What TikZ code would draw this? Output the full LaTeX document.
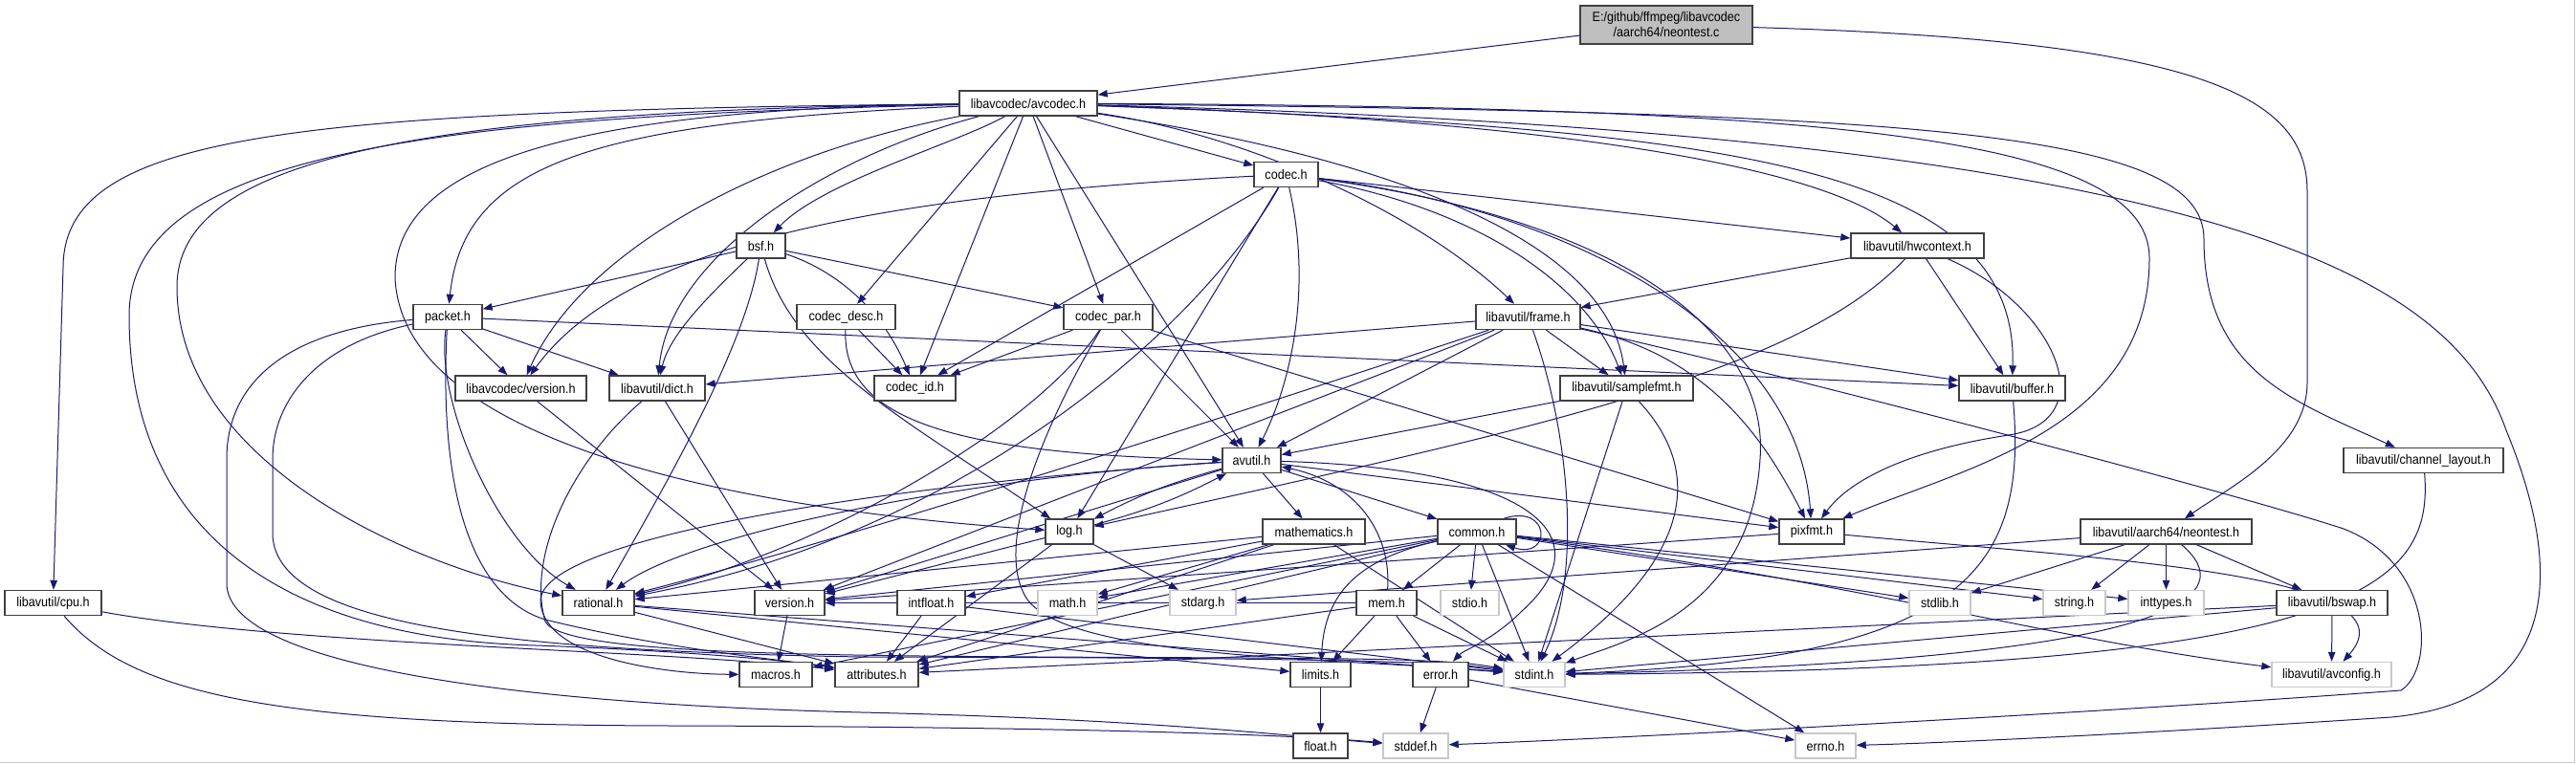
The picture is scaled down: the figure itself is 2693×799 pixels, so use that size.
\documentclass[tikz,border=0pt]{standalone}
\usepackage{fontspec}
\setmainfont{Liberation Sans}
\newfontfamily\nodefont[FakeStretch=0.9]{Liberation Sans}
\usetikzlibrary{arrows.meta}
\definecolor{edgeblue}{HTML}{191970}
\definecolor{boxgray}{HTML}{BFBFBF}
\definecolor{lightbd}{HTML}{C8C8C8}
\pgfdeclarelayer{edgelayer}
\pgfdeclarelayer{backlayer}
\pgfsetlayers{backlayer,edgelayer,main}
\begin{document}
\begin{tikzpicture}[x=1pt,y=-1pt,
  nd/.style={draw=black!75, line width=1.4pt, fill=white, minimum height=26pt, inner sep=0pt, font=\nodefont\fontsize{14}{16}\selectfont},
  gnd/.style={nd, draw=lightbd},
  mainnd/.style={nd, fill=boxgray, minimum height=40pt, align=center},
  e/.style={draw=edgeblue, line width=1pt, -{Triangle[length=10pt,width=7.5pt]}}]
\useasboundingbox (0,0) rectangle (2693,799);
\begin{pgfonlayer}{backlayer}
\fill[white] (0,0) rectangle (2693,799);
\draw[lightbd, line width=1.2pt] (0,797.5) -- (2691.5,797.5) -- (2691.5,0);
\end{pgfonlayer}
% nodes
\node[mainnd, minimum width=180pt] (N0) at (1742,26) {E:/github/ffmpeg/libavcodec\\/aarch64/neontest.c};
\node[nd, minimum width=144pt] (AC) at (1075,108) {libavcodec/avcodec.h};
\node[nd, minimum width=67pt] (CODEC) at (1344.5,182.5) {codec.h};
\node[nd, minimum width=51pt] (BSF) at (795.5,257) {bsf.h};
\node[nd, minimum width=139pt] (HW) at (2004.5,257) {libavutil/hwcontext.h};
\node[nd, minimum width=72pt] (PKT) at (468,331.5) {packet.h};
\node[nd, minimum width=103pt] (CDESC) at (884.5,331.5) {codec\_desc.h};
\node[nd, minimum width=93pt] (CPAR) at (1158.5,331.5) {codec\_par.h};
\node[nd, minimum width=109pt] (FRAME) at (1597.5,331.5) {libavutil/frame.h};
\node[nd, minimum width=137pt] (LVER) at (544.5,406) {libavcodec/version.h};
\node[nd, minimum width=100pt] (DICT) at (687,406) {libavutil/dict.h};
\node[nd, minimum width=85pt] (CID) at (956.5,406) {codec\_id.h};
\node[nd, minimum width=139pt] (SFMT) at (1700.5,406) {libavutil/samplefmt.h};
\node[nd, minimum width=111pt] (BUF) at (2103.5,406) {libavutil/buffer.h};
\node[nd, minimum width=61pt] (AVU) at (1308.5,481.5) {avutil.h};
\node[nd, minimum width=167pt] (CHL) at (2533.5,481.5) {libavutil/channel\_layout.h};
\node[nd, minimum width=50pt] (LOG) at (1118,556) {log.h};
\node[nd, minimum width=107pt] (MATH) at (1373.5,556) {mathematics.h};
\node[nd, minimum width=82pt] (COM) at (1544,556) {common.h};
\node[nd, minimum width=68pt] (PIX) at (1894,556) {pixfmt.h};
\node[nd, minimum width=179pt] (NEON) at (2264.5,556) {libavutil/aarch64/neontest.h};
\node[nd, minimum width=101pt] (CPU) at (55.5,630.5) {libavutil/cpu.h};
\node[nd, minimum width=75pt] (RAT) at (625.5,630.5) {rational.h};
\node[nd, minimum width=73pt] (VER) at (825.5,630.5) {version.h};
\node[nd, minimum width=71pt] (INTF) at (973.5,630.5) {intfloat.h};
\node[gnd, minimum width=62pt] (MATHH) at (1116,630.5) {math.h};
\node[gnd, minimum width=69pt] (STDARG) at (1257.5,630.5) {stdarg.h};
\node[nd, minimum width=63pt] (MEM) at (1449.5,630.5) {mem.h};
\node[gnd, minimum width=61pt] (STDIO) at (1536.5,630.5) {stdio.h};
\node[gnd, minimum width=64pt] (STDLIB) at (2028,630.5) {stdlib.h};
\node[gnd, minimum width=65pt] (STRING) at (2168.5,630.5) {string.h};
\node[gnd, minimum width=79pt] (INTTYPES) at (2264.5,630.5) {inttypes.h};
\node[nd, minimum width=116pt] (BSWAP) at (2438,630.5) {libavutil/bswap.h};
\node[nd, minimum width=76pt] (MACROS) at (811,705.5) {macros.h};
\node[nd, minimum width=87pt] (ATTR) at (916.5,705.5) {attributes.h};
\node[nd, minimum width=63pt] (LIMITS) at (1380.5,705.5) {limits.h};
\node[nd, minimum width=58pt] (ERROR) at (1506,705.5) {error.h};
\node[gnd, minimum width=64pt] (STDINT) at (1604,705.5) {stdint.h};
\node[gnd, minimum width=125pt] (AVCONF) at (2437.5,705.5) {libavutil/avconfig.h};
\node[nd, minimum width=57pt] (FLOAT) at (1380.5,780) {float.h};
\node[gnd, minimum width=68pt] (STDDEF) at (1480,780) {stddef.h};
\node[gnd, minimum width=63pt] (ERRNO) at (1908.5,780) {errno.h};
\begin{pgfonlayer}{edgelayer}
% neontest.c
\draw[e] (N0) -- (AC);
\draw[e] (N0) .. controls (2300,42) and (2412,100) .. (2412,200) -- (2412,400) .. controls (2412,470) and (2330,510) .. (NEON);
% avcodec.h
\draw[e] (AC) .. controls (300,116) and (66,140) .. (66,280) -- (CPU);
\draw[e] (AC) .. controls (450,122) and (135,160) .. (135,330) .. controls (135,560) and (300,668) .. (560,675) .. controls (700,680) and (820,690) .. (ATTR);
\draw[e] (AC) .. controls (420,116) and (185,170) .. (185,300) .. controls (185,480) and (420,590) .. (RAT);
\draw[e] (AC) .. controls (600,114) and (413,170) .. (413,290) .. controls (420,470) and (800,535) .. (LOG);
\draw[e] (AC) .. controls (620,128) and (485,170) .. (PKT);
\draw[e] (AC) .. controls (800,160) and (610,260) .. (LVER);
\draw[e] (AC) .. controls (860,165) and (700,270) .. (DICT);
\draw[e] (AC) .. controls (1000,150) and (860,190) .. (BSF);
\draw[e] (AC) -- (CDESC);
\draw[e] (AC) -- (CID);
\draw[e] (AC) -- (CPAR);
\draw[e] (AC) -- (CODEC);
\draw[e] (AC) -- (AVU);
\draw[e] (AC) .. controls (1300,140) and (1480,220) .. (FRAME);
\draw[e] (AC) .. controls (1450,165) and (1680,250) .. (SFMT);
\draw[e] (AC) .. controls (1600,125) and (1900,170) .. (HW);
\draw[e] (AC) .. controls (1800,135) and (2110,170) .. (BUF);
\draw[e] (AC) .. controls (1900,112) and (2247,140) .. (2247,270) .. controls (2247,450) and (2050,490) .. (PIX);
\draw[e] (AC) .. controls (2000,118) and (2304,135) .. (2304,250) .. controls (2304,390) and (2400,420) .. (CHL);
\draw[e] (AC) .. controls (2300,140) and (2560,280) .. (2620,450) .. controls (2690,620) and (2660,735) .. (2500,750) .. controls (2200,770) and (2000,778) .. (ERRNO);
% codec.h
\draw[e] (CODEC) .. controls (900,205) and (650,260) .. (LVER);
\draw[e] (CODEC) -- (CID);
\draw[e] (CODEC) .. controls (1250,350) and (1000,560) .. (RAT);
\draw[e] (CODEC) -- (LOG);
\draw[e] (CODEC) .. controls (1372,300) and (1350,400) .. (AVU);
\draw[e] (CODEC) -- (HW);
\draw[e] (CODEC) .. controls (1550,220) and (1660,300) .. (SFMT);
\draw[e] (CODEC) .. controls (1650,220) and (1880,350) .. (PIX);
\draw[e] (CODEC) .. controls (1700,230) and (1850,350) .. (1840,480) .. controls (1830,640) and (1700,670) .. (STDINT);
% bsf.h
\draw[e] (BSF) -- (PKT);
\draw[e] (BSF) -- (CPAR);
\draw[e] (BSF) .. controls (880,285) and (925,330) .. (CID);
\draw[e] (BSF) .. controls (740,310) and (700,350) .. (DICT);
\draw[e] (BSF) .. controls (780,360) and (700,500) .. (RAT);
\draw[e] (BSF) .. controls (830,380) and (950,440) .. (LOG);
% codec_desc.h
\draw[e] (CDESC) -- (CID);
\draw[e] (CDESC) .. controls (880,440) and (1000,475) .. (AVU);
% codec_par.h
\draw[e] (CPAR) -- (CID);
\draw[e] (CPAR) -- (AVU);
\draw[e] (CPAR) .. controls (1080,450) and (850,580) .. (RAT);
\draw[e] (CPAR) -- (PIX);
\draw[e] (CPAR) .. controls (1100,430) and (1040,560) .. (1070,620) .. controls (1100,690) and (1400,688) .. (STDINT);
% frame.h
\draw[e] (FRAME) -- (DICT);
\draw[e] (FRAME) -- (BUF);
\draw[e] (FRAME) -- (SFMT);
\draw[e] (FRAME) -- (AVU);
\draw[e] (FRAME) .. controls (1300,430) and (900,560) .. (RAT);
\draw[e] (FRAME) -- (VER);
\draw[e] (FRAME) .. controls (1780,370) and (1840,450) .. (PIX);
\draw[e] (FRAME) .. controls (1640,450) and (1655,600) .. (STDINT);
\draw[e] (FRAME) .. controls (1900,400) and (2350,520) .. (2450,553) .. controls (2545,590) and (2545,700) .. (2510,722) .. controls (2200,745) and (1700,772) .. (STDDEF);
% hwcontext.h
\draw[e] (HW) -- (FRAME);
\draw[e] (HW) -- (BUF);
\draw[e] (HW) .. controls (1880,390) and (1600,450) .. (LOG);
\draw[e] (HW) .. controls (2150,320) and (2200,440) .. (2100,455) .. controls (2000,470) and (1935,500) .. (PIX);
% samplefmt.h
\draw[e] (SFMT) -- (AVU);
\draw[e] (SFMT) -- (STDINT);
\draw[e] (SFMT) .. controls (1760,470) and (1800,560) .. (STDINT);
% avutil.h
\draw[e] (AVU) -- (MATH);
\draw[e] (AVU) -- (COM);
\draw[e] (AVU) to[bend right=6] (LOG);
\draw[e] (LOG) to[bend right=6] (AVU);
\draw[e] (AVU) -- (PIX);
\draw[e] (AVU) .. controls (1600,490) and (1680,560) .. (1590,640) .. controls (1560,670) and (1530,680) .. (ERROR);
\draw[e] (AVU) .. controls (1000,500) and (720,560) .. (RAT);
\draw[e] (AVU) -- (VER);
\draw[e] (AVU) .. controls (950,505) and (560,560) .. (565,630) .. controls (570,690) and (700,705) .. (MACROS);
% log.h
\draw[e] (LOG) -- (STDARG);
\draw[e] (LOG) -- (VER);
\draw[e] (LOG) -- (ATTR);
% mathematics.h
\draw[e] (MATH) -- (MATHH);
\draw[e] (MATH) -- (INTF);
\draw[e] (MATH) -- (RAT);
\draw[e] (MATH) -- (ATTR);
\draw[e] (MATH) -- (STDINT);
% common.h
\draw[e] ([xshift=28pt]COM.north) .. controls (1622,526) and (1622,586) .. ([xshift=30pt]COM.south);
\draw[e] (COM) -- (MEM);
\draw[e] (COM) -- (STDIO);
\draw[e] (COM) -- (STDINT);
\draw[e] (COM) .. controls (1420,585) and (1385,620) .. (LIMITS);
\draw[e] (COM) -- (MATHH);
\draw[e] (COM) -- (VER);
\draw[e] (COM) -- (ATTR);
\draw[e] (COM) -- (MACROS);
\draw[e] (COM) -- (ERRNO);
\draw[e] (COM) -- (STDLIB);
\draw[e] (COM) -- (STRING);
\draw[e] (COM) -- (INTTYPES);
\draw[e] (COM) .. controls (1950,610) and (2150,670) .. (AVCONF);
% mem.h
\draw[e] (MEM) -- (LIMITS);
\draw[e] (MEM) -- (ERROR);
\draw[e] (MEM) -- (STDINT);
\draw[e] (MEM) .. controls (1455,560) and (1420,505) .. (AVU);
\draw[e] (MEM) -- (ATTR);
\draw[e] (MEM) -- (VER);
% intfloat.h
\draw[e] (INTF) -- (ATTR);
\draw[e] (INTF) -- (STDINT);
% rational.h
\draw[e] (RAT) -- (ATTR);
\draw[e] (RAT) -- (LIMITS);
\draw[e] (RAT) -- (STDINT);
% others
\draw[e] (VER) -- (MACROS);
\draw[e] (PIX) -- (VER);
\draw[e] (PIX) .. controls (2200,585) and (2530,600) .. (AVCONF);
\draw[e] (LVER) -- (VER);
\draw[e] (DICT) -- (VER);
\draw[e] (DICT) .. controls (600,480) and (550,580) .. (570,650) .. controls (590,688) and (900,686) .. (1300,688) .. controls (1450,689) and (1520,690) .. (STDINT);
\draw[e] (CPU) .. controls (300,675) and (700,680) .. (ATTR);
\draw[e] (CPU) .. controls (140,730) and (300,758) .. (700,759) .. controls (1100,760) and (1350,768) .. (STDDEF);
% packet.h
\draw[e] (PKT) -- (LVER);
\draw[e] (PKT) -- (DICT);
\draw[e] (PKT) -- (BUF);
\draw[e] (PKT) .. controls (455,420) and (520,570) .. (RAT);
\draw[e] (PKT) .. controls (460,480) and (480,620) .. (570,648) .. controls (700,680) and (820,690) .. (ATTR);
\draw[e] (PKT) .. controls (330,360) and (285,420) .. (285,480) -- (285,560) .. controls (290,650) and (500,680) .. (900,687) .. controls (1300,688) and (1500,690) .. (STDINT);
\draw[e] (PKT) .. controls (300,345) and (237,400) .. (237,480) -- (237,610) .. controls (237,690) and (500,735) .. (900,745) .. controls (1200,752) and (1350,770) .. (STDDEF);
% buffer, channel_layout, neontest.h, bswap
\draw[e] (BUF) .. controls (2120,600) and (2050,690) .. (STDINT);
\draw[e] (CHL) .. controls (2545,620) and (2450,700) .. (STDINT);
\draw[e] (NEON) -- (STDARG);
\draw[e] (NEON) -- (STDLIB);
\draw[e] (NEON) -- (STRING);
\draw[e] (NEON) -- (INTTYPES);
\draw[e] (NEON) -- (BSWAP);
\draw[e] (NEON) .. controls (2340,620) and (2300,690) .. (STDINT);
\draw[e] (BSWAP) -- (AVCONF);
\draw[e] (BSWAP) -- (ATTR);
\draw[e] (BSWAP) -- (STDINT);
% error.h, limits.h
\draw[e] (ERROR) -- (ERRNO);
\draw[e] (ERROR) -- (STDDEF);
\draw[e] (LIMITS) -- (FLOAT);
\end{pgfonlayer}
\end{tikzpicture}
\end{document}
